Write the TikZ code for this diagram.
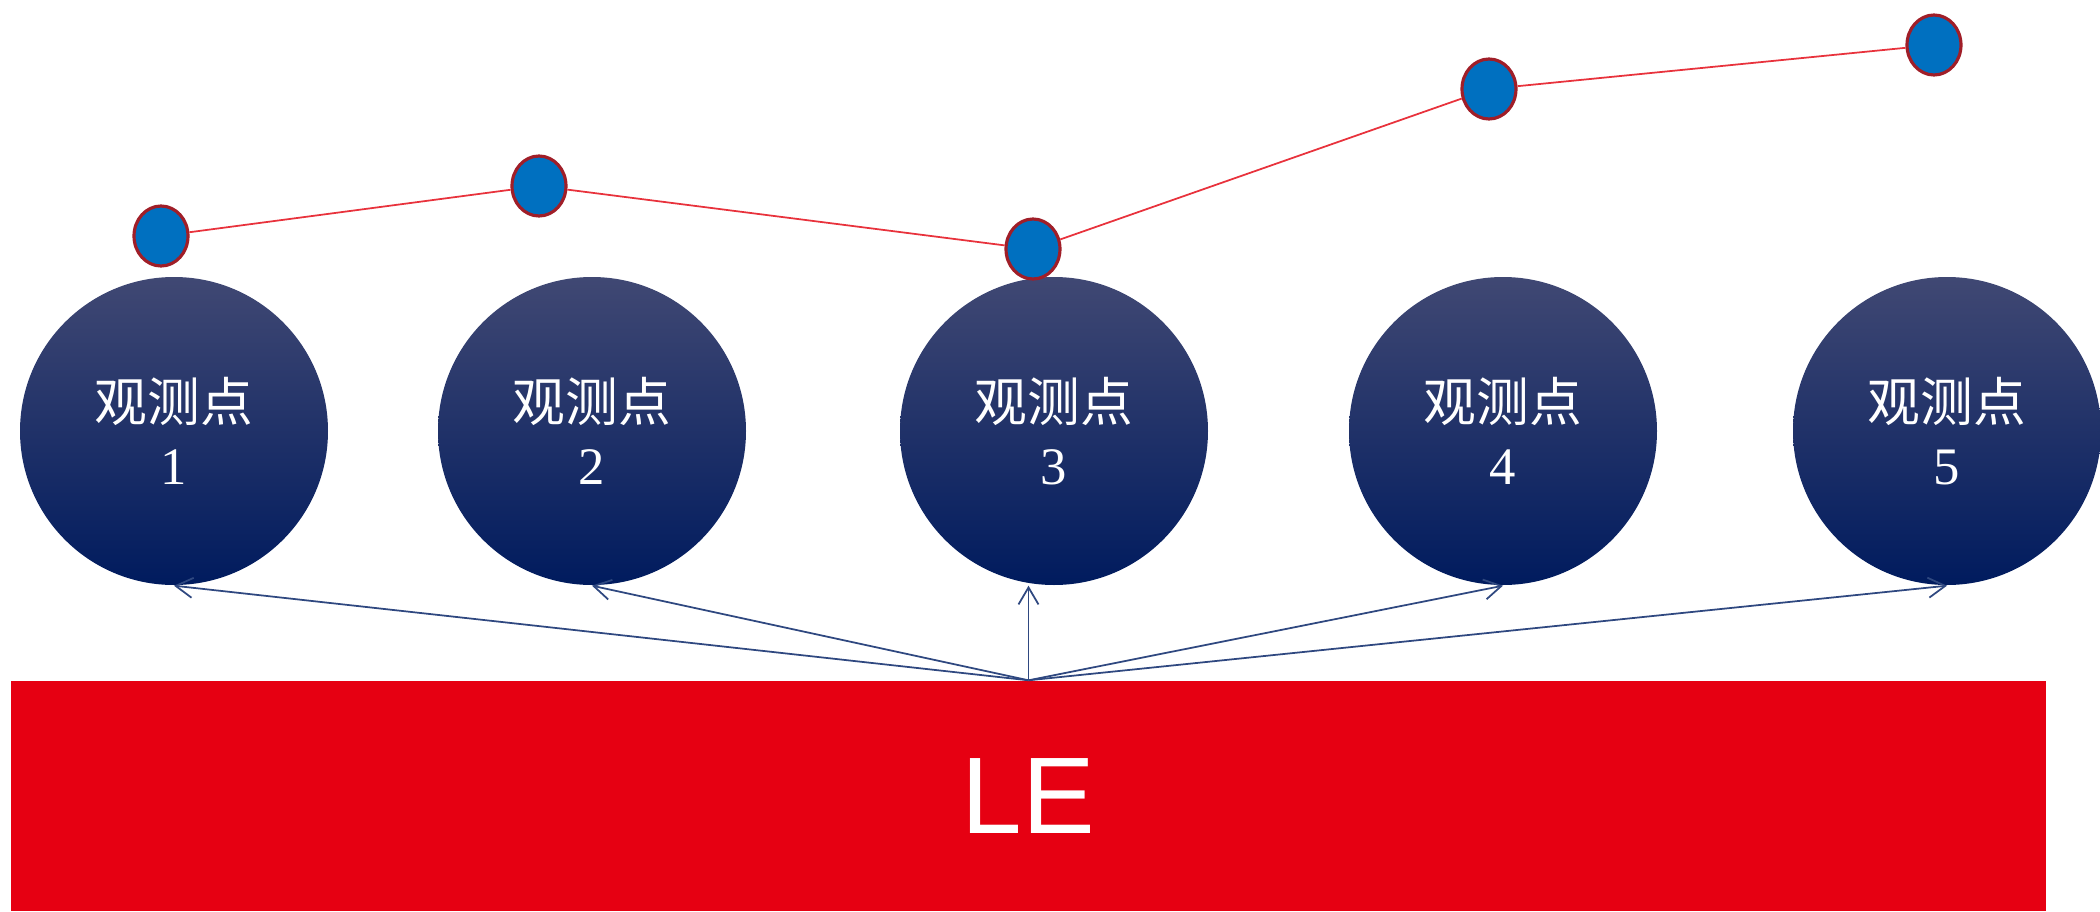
\documentclass[tikz,border=0pt]{standalone}
\usepackage{fontspec}
\setmainfont{Liberation Serif}
\newfontfamily\cjk{Noto Sans CJK SC}
\newfontfamily\lesans{Liberation Sans}
\usetikzlibrary{positioning,arrows.meta,calc,shapes.geometric}

\definecolor{navytop}{RGB}{64,72,115}
\definecolor{navy}{RGB}{0,27,94}
\definecolor{dotblue}{RGB}{0,112,192}
\definecolor{dotrim}{RGB}{160,30,40}
\definecolor{linered}{RGB}{232,50,60}
\definecolor{arrowblue}{RGB}{47,72,128}
\definecolor{lered}{RGB}{230,0,18}

\begin{document}
\begin{tikzpicture}[
  >={Straight Barb[length=1.7mm,width=2mm]},
  obs/.style={circle, minimum size=3.08cm, inner sep=0pt, align=center,
    top color=navytop, middle color=navy, bottom color=navy,
    text=white, font=\fontsize{15pt}{18pt}\selectfont},
  dot/.style={ellipse, draw=dotrim, line width=0.9pt, fill=dotblue,
    minimum width=0.54cm, minimum height=0.60cm, inner sep=0pt},
  base/.style={rectangle, fill=lered, minimum width=20.35cm, minimum height=2.30cm,
    text=white, font=\lesans\fontsize{31pt}{31pt}\selectfont},
  trend/.style={draw=linered, line width=0.5pt},
  arrow/.style={->, draw=arrowblue, line width=0.5pt}
]
\useasboundingbox (0,0) rectangle (21,9.11);

% Base layer
\node[base] (le) at (10.285,1.15) {LE};

% Observation points
\node[obs] (obs1) at (1.74,4.80)  {{\cjk 观测点}\\1};
\node[obs] (obs2) at (5.92,4.80)  {{\cjk 观测点}\\2};
\node[obs] (obs3) at (10.54,4.80) {{\cjk 观测点}\\3};
\node[obs] (obs4) at (15.03,4.80) {{\cjk 观测点}\\4};
\node[obs] (obs5) at (19.47,4.80) {{\cjk 观测点}\\5};

% Measured values above the points
\node[dot] (val1) at (1.61,6.75)  {};
\node[dot] (val2) at (5.39,7.25)  {};
\node[dot] (val3) at (10.33,6.62) {};
\node[dot] (val4) at (14.89,8.22) {};
\node[dot] (val5) at (19.34,8.66) {};

% Trend line
\draw[trend] (val1) -- (val2) -- (val3) -- (val4) -- (val5);

% Arrows from the base to each point
\draw[arrow] (le.north) -- (obs1.south);
\draw[arrow] (le.north) -- (obs2.south);
\draw[arrow] (le.north) -- (obs3.south -| le.north);
\draw[arrow] (le.north) -- (obs4.south);
\draw[arrow] (le.north) -- (obs5.south);

\end{tikzpicture}
\end{document}
